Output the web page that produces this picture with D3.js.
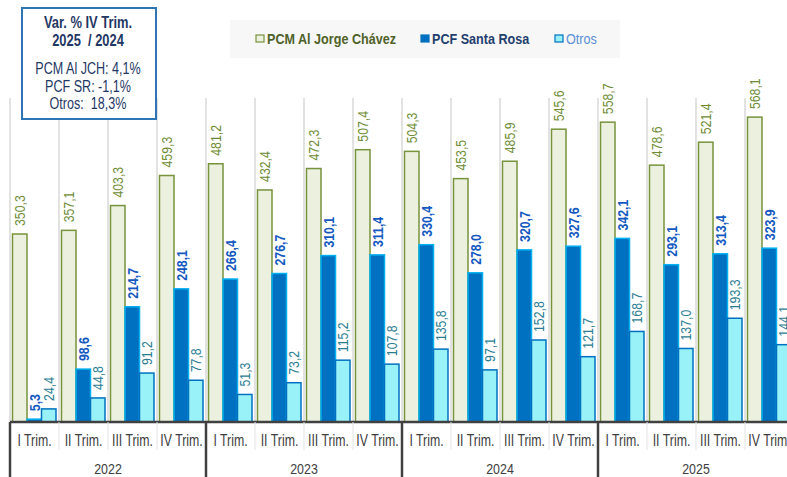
<!DOCTYPE html>
<html>
<head>
<meta charset="utf-8">
<script src="https://cdn.jsdelivr.net/npm/d3@7"></script>
<style>
  body { margin: 0; background: #ffffff; }
  svg { display: block; font-family: "Liberation Sans", Arial, sans-serif; }
</style>
</head>
<body>
<div id="chart"></div>
<script>
const years = ["2022", "2023", "2024", "2025"];
const quarters = ["I Trim.", "II Trim.", "III Trim.", "IV Trim."];
const seriesNames = ["PCM Al Jorge Chávez", "PCF Santa Rosa", "Otros"];

const pcmValues = [350.3, 357.1, 403.3, 459.3, 481.2, 432.4, 472.3, 507.4, 504.3, 453.5, 485.9, 545.6, 558.7, 478.6, 521.4, 568.1];
const pcfValues = [5.3, 98.6, 214.7, 248.1, 266.4, 276.7, 310.1, 311.4, 330.4, 278.0, 320.7, 327.6, 342.1, 293.1, 313.4, 323.9];
const otrosValues = [24.4, 44.8, 91.2, 77.8, 51.3, 73.2, 115.2, 107.8, 135.8, 97.1, 152.8, 121.7, 168.7, 137.0, 193.3, 144.1];

const noteLines = ["Var. % IV Trim.", "2025  / 2024", "PCM Al JCH: 4,1%", "PCF SR: -1,1%", "Otros:  18,3%"];

// no narrow font installed: squeeze Liberation Sans horizontally
function squeeze(k) { return `scale(${k},1)`; }

function drawChart() {
    const width = 787, height = 477;
    const left = 10, step = 49, top = 100, base = 422;

    const svg = d3.select("#chart").append("svg")
        .attr("width", width)
        .attr("height", height);

    const styles = [
        { fill: "#EBF1DE", stroke: "#77933C", label: "#6E8B34", weight: "normal", legend: "#4F6228" },
        { fill: "#0070C0", stroke: "#00B0F0", label: "#1459C0", weight: "bold", legend: "#1F3F6E" },
        { fill: "#9AF2F9", stroke: "#0070C0", label: "#2A7C92", weight: "normal", legend: "#5B8FD6" }
    ];
    const allValues = [pcmValues, pcfValues, otrosValues];

    // flat list of categories (year x quarter)
    const cats = [];
    years.forEach(y => quarters.forEach(q => cats.push({ year: y, quarter: q, key: y + "|" + q })));

    const x = d3.scaleBand()
        .domain(cats.map(d => d.key))
        .range([left, left + cats.length * step]);

    const xSeries = d3.scaleBand()
        .domain(seriesNames)
        .range([2.5, x.bandwidth() - 3]);

    const y = d3.scaleLinear()
        .domain([0, 600])
        .range([base, top]);

    // vertical gridlines at category boundaries
    svg.append("g")
        .selectAll("line")
        .data(cats)
        .join("line")
        .attr("x1", d => x(d.key))
        .attr("x2", d => x(d.key))
        .attr("y1", top - 2)
        .attr("y2", base)
        .attr("stroke", "#D9D9D9")
        .attr("stroke-width", 1.5);

    const rows = cats.map((c, i) => ({ cat: c, values: allValues.map(v => v[i]) }));

    const groups = svg.append("g")
        .selectAll("g")
        .data(rows)
        .join("g")
        .attr("transform", d => `translate(${x(d.cat.key)},0)`);

    seriesNames.forEach((name, s) => {
        groups.append("rect")
            .attr("x", xSeries(name))
            .attr("y", d => y(d.values[s]))
            .attr("width", xSeries.bandwidth())
            .attr("height", d => base - y(d.values[s]))
            .attr("fill", styles[s].fill)
            .attr("stroke", styles[s].stroke)
            .attr("stroke-width", 1.5);

        groups.append("text")
            .attr("transform", d => `translate(${xSeries(name) + xSeries.bandwidth() / 2 + 5.5},${y(d.values[s]) - 8}) rotate(-90) ${squeeze(0.82)}`)
            .attr("text-anchor", "start")
            .attr("font-size", "15px")
            .attr("font-weight", styles[s].weight)
            .attr("fill", styles[s].label)
            .text(d => d.values[s].toFixed(1).replace(".", ","));
    });

    // x axis line
    svg.append("line")
        .attr("x1", left)
        .attr("x2", width)
        .attr("y1", base)
        .attr("y2", base)
        .attr("stroke", "#404040")
        .attr("stroke-width", 2.5);

    // quarter ticks + labels
    svg.append("g")
        .selectAll("line")
        .data(cats)
        .join("line")
        .attr("x1", d => x(d.key))
        .attr("x2", d => x(d.key))
        .attr("y1", base)
        .attr("y2", base + 28)
        .attr("stroke", "#E3E3E3")
        .attr("stroke-width", 1);

    svg.append("g")
        .selectAll("text")
        .data(cats)
        .join("text")
        .attr("transform", d => `translate(${x(d.key) + x.bandwidth() / 2},${base + 24}) ${squeeze(0.77)}`)
        .attr("text-anchor", "middle")
        .attr("font-size", "16px")
        .attr("fill", "#404040")
        .text(d => d.quarter);

    // year separators + labels
    const yearStarts = years.map(yr => x(yr + "|" + quarters[0]));
    svg.append("g")
        .selectAll("line")
        .data(yearStarts)
        .join("line")
        .attr("x1", d => d)
        .attr("x2", d => d)
        .attr("y1", base)
        .attr("y2", height)
        .attr("stroke", "#404040")
        .attr("stroke-width", 2.5);

    svg.append("g")
        .selectAll("text")
        .data(years)
        .join("text")
        .attr("transform", yr => `translate(${x(yr + "|" + quarters[0]) + step * 2},${base + 52}) ${squeeze(0.8)}`)
        .attr("text-anchor", "middle")
        .attr("font-size", "15.5px")
        .attr("fill", "#404040")
        .text(yr => yr);

    // legend
    const legend = svg.append("g");
    legend.append("rect")
        .attr("x", 230).attr("y", 20)
        .attr("width", 390).attr("height", 38)
        .attr("fill", "#F7F7F7");

    const legendX = [256, 421, 555];
    seriesNames.forEach((name, s) => {
        legend.append("rect")
            .attr("x", legendX[s]).attr("y", 35)
            .attr("width", 8).attr("height", 7)
            .attr("fill", styles[s].fill)
            .attr("stroke", s === 1 ? "#0070C0" : styles[s].stroke)
            .attr("stroke-width", 1.2);
        legend.append("text")
            .attr("transform", `translate(${legendX[s] + 11},44) ${squeeze(0.84)}`)
            .attr("font-size", "15px")
            .attr("font-weight", s === 2 ? "normal" : "bold")
            .attr("fill", styles[s].legend)
            .text(name);
    });

    // note box
    const note = svg.append("g");
    note.append("rect")
        .attr("x", 22).attr("y", 8)
        .attr("width", 134).attr("height", 111)
        .attr("fill", "#ffffff")
        .attr("stroke", "#2E75B6")
        .attr("stroke-width", 2);

    const noteY = [28, 46, 74, 91.5, 109];
    note.selectAll("text")
        .data(noteLines)
        .join("text")
        .attr("transform", (d, i) => `translate(88,${noteY[i]}) ${squeeze(i < 2 ? 0.76 : 0.74)}`)
        .attr("text-anchor", "middle")
        .attr("font-size", "17px")
        .attr("font-weight", (d, i) => i < 2 ? "bold" : "normal")
        .attr("fill", "#1F3864")
        .style("white-space", "pre")
        .text(d => d);
}

document.addEventListener('DOMContentLoaded', drawChart);
</script>
</body>
</html>
